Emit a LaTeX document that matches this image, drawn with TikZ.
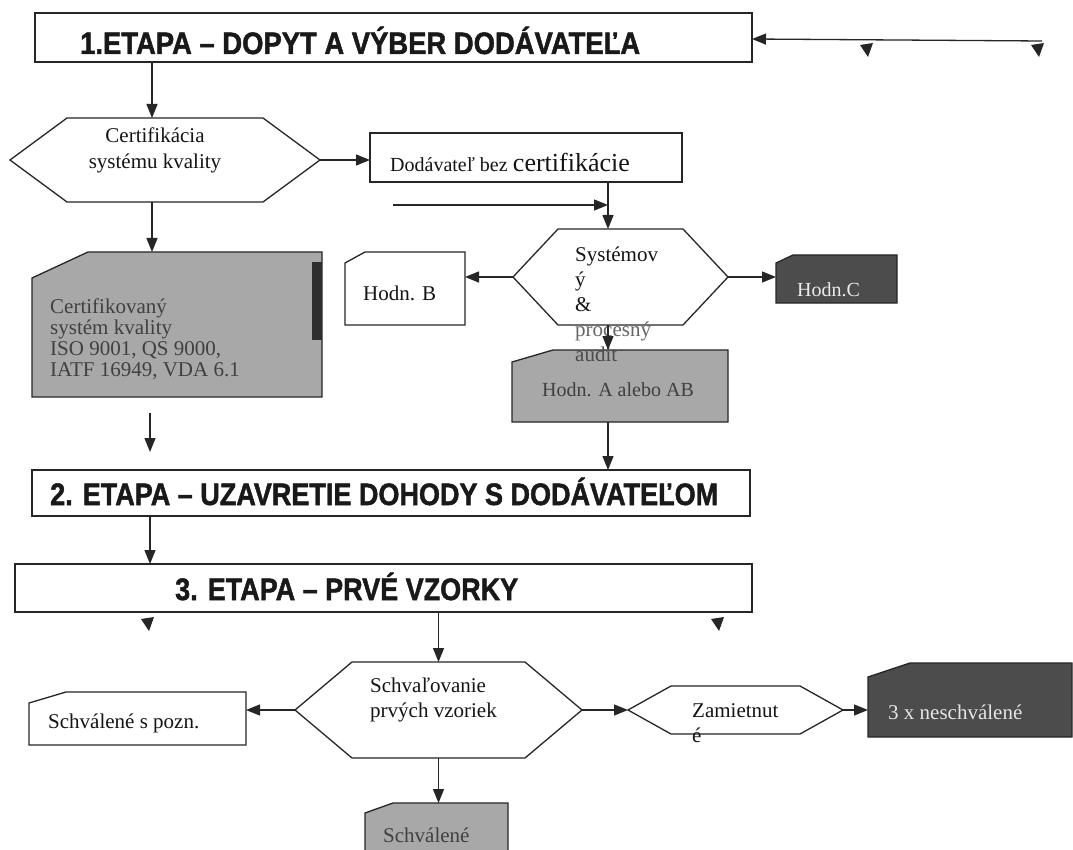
\documentclass[tikz,border=0pt]{standalone}
\usepackage{fontspec}
\setmainfont{Liberation Serif}
\newfontfamily\arialb{Liberation Sans}[UprightFont={* Bold}, FakeBold=1.6]
\usetikzlibrary{arrows.meta,calc}
\pgfdeclarelayer{bg}
\pgfsetlayers{bg,main}
\newlength\fitlen
\newcommand\fitx[2]{\settowidth\fitlen{#2}\scalebox{\fpeval{#1/\the\fitlen}}[1]{#2}}
\tikzset{
  ln/.style={draw=black!85, line width=1.3pt},
  arr/.style={ln, -{Triangle[length=14pt,width=11pt]}},
  area/.style={rectangle, draw=none, inner sep=0pt, outer sep=0pt},
  ttl/.style={font=\arialb\fontsize{31}{32}\selectfont, anchor=base west, inner sep=0pt, text=black!90},
  txt/.style={font=\fontsize{21}{24}\selectfont, inner sep=0pt, text=black!92},
  lightfill/.style={fill=black!34},
  darkfill/.style={fill=black!70},
}
% outlines (drawn on background layer)
\newcommand\snip[4]{\path[ln,#4] ([yshift=-#3]#1.north west) -- ([xshift=#2]#1.north west) -- (#1.north east) -- (#1.south east) -- (#1.south west) -- cycle;}
\newcommand\hexo[2]{\path[ln,fill=white] (#1.west) -- ([xshift=#2]#1.north west) -- ([xshift=-#2]#1.north east) -- (#1.east) -- ([xshift=-#2]#1.south east) -- ([xshift=#2]#1.south west) -- cycle;}
\newcommand\stray[2]{\fill[black!85] (#1-7,#2-3) -- (#1+6,#2-5) -- (#1+1,#2+9) -- cycle;}
\begin{document}
\begin{tikzpicture}[x=1pt,y=-1pt]
\useasboundingbox (0,0) rectangle (1073,850);
% ---- shape areas ----
\node[area, minimum width=717pt, minimum height=49pt] (t1) at (393.5,37.5) {};
\node[area, minimum width=310pt, minimum height=84pt] (h1) at (165,160) {};
\node[area, minimum width=312pt, minimum height=49pt] (d1) at (526,157.5) {};
\node[area, minimum width=290pt, minimum height=145pt] (cb) at (177,324.5) {};
\node[area, minimum width=215pt, minimum height=96pt] (h2) at (620.5,277) {};
\node[area, minimum width=120pt, minimum height=73pt] (hb) at (405,288.5) {};
\node[area, minimum width=121pt, minimum height=48pt] (hc) at (836.5,279) {};
\node[area, minimum width=216pt, minimum height=72pt] (ha) at (620,386) {};
\node[area, minimum width=718pt, minimum height=46pt] (t2) at (391,493) {};
\node[area, minimum width=737pt, minimum height=48pt] (t3) at (383.5,588) {};
\node[area, minimum width=287pt, minimum height=96pt] (h3) at (438.5,710) {};
\node[area, minimum width=217pt, minimum height=53pt] (sp) at (137.5,718.5) {};
\node[area, minimum width=215pt, minimum height=48pt] (z) at (735.5,710) {};
\node[area, minimum width=204pt, minimum height=74pt] (nx) at (970,700) {};
\node[area, minimum width=143pt, minimum height=53pt] (sv) at (436.5,829.5) {};
% ---- outlines on background ----
\begin{pgfonlayer}{bg}
\fill[white] (0,0) rectangle (1073,850);
\path[ln] (t1.north west) rectangle (t1.south east);
\path[ln] (d1.north west) rectangle (d1.south east);
\path[ln] (t2.north west) rectangle (t2.south east);
\path[ln] (t3.north west) rectangle (t3.south east);
\hexo{h1}{57pt}
\hexo{h2}{45pt}
\hexo{h3}{57pt}
\hexo{z}{43pt}
\snip{cb}{56pt}{26pt}{lightfill}
\fill[black!82] (312,262) rectangle (322,340);
\snip{hb}{20pt}{11pt}{fill=white}
\snip{hc}{17pt}{8pt}{darkfill}
\snip{ha}{41pt}{12pt}{lightfill}
\snip{sp}{37pt}{11pt}{fill=white}
\snip{nx}{42pt}{14pt}{darkfill}
\snip{sv}{28pt}{10pt}{lightfill}
\end{pgfonlayer}
% ---- texts ----
\node[ttl] (t1x) at (80,54) {\fitx{560pt}{1.ETAPA – DOPYT A VÝBER DODÁVATEĽA}};
\node[ttl] (t2x) at (50,505) {\fitx{668pt}{2. ETAPA – UZAVRETIE DOHODY S DODÁVATEĽOM}};
\node[ttl] (t3x) at (175,600) {\fitx{343pt}{3. ETAPA – PRVÉ VZORKY}};
\node[txt, font=\fontsize{21}{26}\selectfont, align=center, anchor=north] (h1x) at (155,128) {Certifikácia\\systému kvality};
\node[txt, anchor=base west] (d1x) at (390,172) {{\fontsize{20}{24}\selectfont Dodávateľ bez} {\fontsize{26}{28}\selectfont certifikácie}};
\node[txt, font=\fontsize{21}{21}\selectfont, align=left, anchor=north west, text=black!75] (cbx) at (50,299) {Certifikovaný\\systém kvality\\ISO 9001, QS 9000,\\IATF 16949, VDA 6.1};
\node[txt, font=\fontsize{21}{25}\selectfont, align=left, anchor=north west] (h2x) at (575,247) {Systémov\\ý\\\&\\{\color{black!60}procesný}\\{\color{black!70}audit}};
\node[txt, anchor=base west] (hbx) at (363,300) {Hodn. B};
\node[txt, anchor=base west, text=black!8, font=\fontsize{20}{24}\selectfont] (hcx) at (797,296) {Hodn.C};
\node[txt, anchor=base west, text=black!75, font=\fontsize{20}{24}\selectfont] (hax) at (542,396) {Hodn. A alebo AB};
\node[txt, font=\fontsize{21}{25}\selectfont, align=left, anchor=north west] (h3x) at (370,678) {Schvaľovanie\\prvých vzoriek};
\node[txt, anchor=base west] (spx) at (48,728) {Schválené s pozn.};
\node[txt, font=\fontsize{21}{25}\selectfont, align=left, anchor=north west] (zx) at (692,703) {Zamietnut\\é};
\node[txt, anchor=base west, text=black!10] (nxx) at (888,719) {3 x neschválené};
\node[txt, anchor=base west, text=black!75] (svx) at (383,842) {Schválené};
% ---- connectors ----
\coordinate (ra) at (1042,41);
\coordinate (c152) at ([xshift=-13pt]h1.north);
\coordinate (fa1) at (150,413);
\coordinate (fa2) at (150,452);
\coordinate (v1) at (608,300);
\coordinate (sa) at (393,205);
\coordinate (v2) at (150,540);
\draw[arr] (ra) -- ([yshift=-1.5pt]t1.east);
\draw[arr] (t1.south -| c152) -- (c152);
\draw[arr] (h1.south -| c152) -- (cb.north -| c152);
\draw[arr] (fa1) -- (fa2);
\draw[arr] (h1.east) -- (h1.east -| d1.west);
\draw[arr] (d1.south -| v1) -- (h2.north -| v1);
\draw[arr] (sa) -- (sa -| v1);
\draw[arr] (h2.west) -- (h2.west -| hb.east);
\draw[arr] (h2.east) -- (h2.east -| hc.west);
\draw[arr] (h2.south -| v1) -- (ha.north -| v1);
\draw[arr] (ha.south -| v1) -- (t2.north -| v1);
\draw[arr] (t2.south -| v2) -- (t3.north -| v2);
\draw[arr] (t3.south -| h3.north) -- (h3.north);
\draw[arr] (h3.west) -- (h3.west -| sp.east);
\draw[arr] (h3.east) -- (z.west);
\draw[arr] (z.east) -- (z.east -| nx.west);
\draw[arr] (h3.south) -- (h3.south |- sv.north);
% stray arrow tips
\stray{867}{48}
\stray{1038}{48}
\stray{148}{622}
\stray{718}{622}
\end{tikzpicture}
\end{document}
